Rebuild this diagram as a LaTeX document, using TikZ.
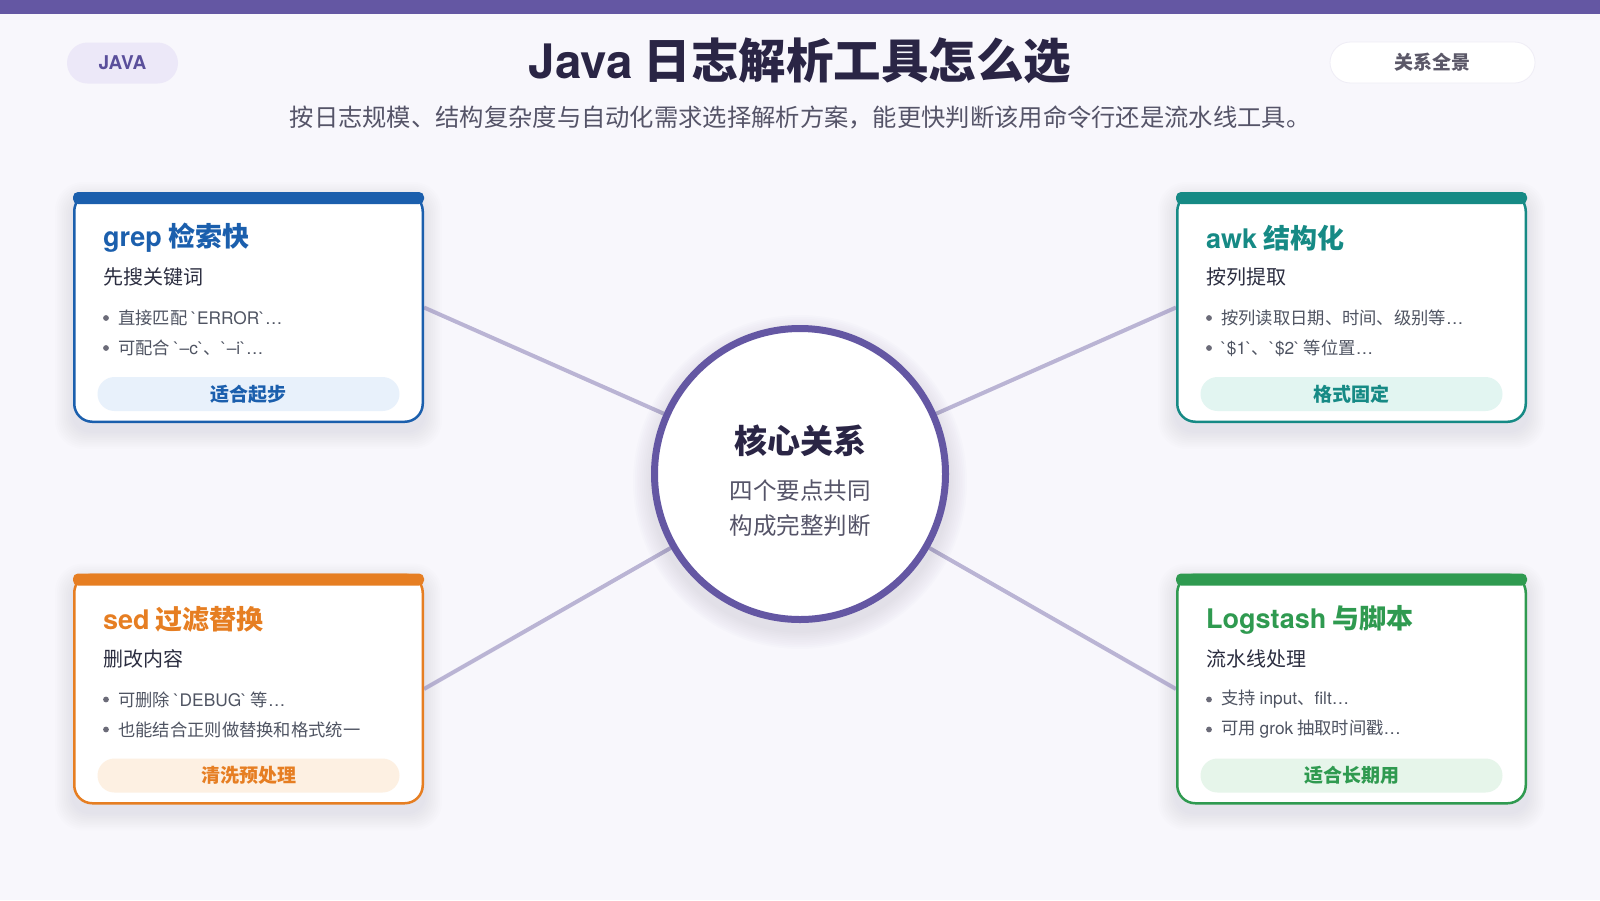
\documentclass[tikz,border=0pt]{standalone}
\usepackage{fontspec}
\setmainfont{Noto Sans CJK SC}[Ligatures=TeXOff]
\newfontfamily\lat{TeX Gyre Heros}[Ligatures=TeXOff]
\usetikzlibrary{calc}
\definecolor{bgc}{HTML}{F8F7FC}
\definecolor{topbar}{HTML}{6457A3}
\definecolor{titlec}{HTML}{2A2545}
\definecolor{subc}{HTML}{555468}
\definecolor{javafill}{HTML}{ECE8F8}
\definecolor{javatext}{HTML}{5A4F9B}
\definecolor{ovtext}{HTML}{5B5868}
\definecolor{ovedge}{HTML}{EFEDF6}
\definecolor{linec}{HTML}{BAB4D4}
\definecolor{shadowc}{HTML}{4A4470}
\definecolor{cblue}{HTML}{1B5FAD}
\definecolor{pblue}{HTML}{E8F1FB}
\definecolor{cteal}{HTML}{168A85}
\definecolor{pteal}{HTML}{E2F5F1}
\definecolor{corange}{HTML}{E67E22}
\definecolor{porange}{HTML}{FDF0E2}
\definecolor{cgreen}{HTML}{2F9A50}
\definecolor{pgreen}{HTML}{E6F5EA}
\definecolor{darktext}{HTML}{2B2D40}
\definecolor{bullettext}{HTML}{4F5462}
\definecolor{dotc}{HTML}{6B6B78}
\pgfdeclarelayer{bg}\pgfdeclarelayer{lines}\pgfsetlayers{bg,lines,main}
\newcommand\fs[1]{\fontsize{#1}{#1}\selectfont}
\tikzset{
  card/.style={rectangle, rounded corners=18pt, line width=2.5pt, fill=white, minimum width=348.5pt, minimum height=228.5pt, inner sep=0pt},
  cardtitle/.style={anchor=west, inner sep=0pt, font=\bfseries\fs{27}},
  cardsub/.style={anchor=west, inner sep=0pt, font=\fs{20}, text=darktext},
  bullet/.style={anchor=west, inner sep=0pt, font=\fs{17.3}, text=bullettext},
  pill/.style={rectangle, rounded corners=17pt, minimum width=302pt, minimum height=34pt, inner sep=0pt, font=\bfseries\fs{19}},
  conn/.style={draw=linec, line width=4pt},
  shadowstep/.style={fill=shadowc, opacity=0.008},
}
\newcommand\toolcard[9]{%
  \coordinate (#1-c) at (#2);
  \foreach \i in {1,...,10}{
    \fill[shadowstep, rounded corners=18+\i] ($(#1-c)+(-175.5-\i*1.8,-115.5-\i*1.8+8)$) rectangle ($(#1-c)+(175.5+\i*1.8,115.5+\i*1.8+8)$);
  }
  \node[card, draw=#3] (#1) at (#1-c) {};
  \fill[#3, rounded corners=5pt] (#1.north west) rectangle ([yshift=-12pt]#1.north east);
  \node[cardtitle, text=#3] (#1-t) at ($(#1.north west)+(30,46)$) {#5};
  \node[cardsub] (#1-s) at ($(#1.north west)+(30,85)$) {#6};
  \fill[dotc] ($(#1.north west)+(33,126)$) circle (2.9pt);
  \node[bullet] (#1-b1) at ($(#1.north west)+(45,126)$) {#7};
  \fill[dotc] ($(#1.north west)+(33,156)$) circle (2.9pt);
  \node[bullet] (#1-b2) at ($(#1.north west)+(45,156)$) {#8};
  \node[pill, fill=#4, text=#3] (#1-p) at ($(#1.north west)+(175.5,202)$) {#9};
}
\begin{document}
\begin{tikzpicture}[x=1pt,y=-1pt]
\useasboundingbox (0,0) rectangle (1600,900);
\begin{pgfonlayer}{bg}
  \fill[bgc] (0,0) rectangle (1600,900);
  \fill[topbar] (0,0) rectangle (1600,13.5);
\end{pgfonlayer}
% header
\node[rectangle, rounded corners=20.5pt, fill=javafill, minimum width=111pt, minimum height=41pt, inner sep=0pt, text=javatext, font=\lat\bfseries\fs{19}] (java) at (122.5,63) {JAVA};
\node[rectangle, rounded corners=20.5pt, fill=white, draw=ovedge, line width=0.8pt, minimum width=205pt, minimum height=41pt, inner sep=0pt, text=ovtext, font=\bfseries\fs{19}] (overview) at (1432.5,62.5) {关系全景};
\node[text=titlec, font=\bfseries\fs{47.5}, inner sep=0pt] (title) at (800,61) {{\lat Java} 日志解析工具怎么选};
\node[text=subc, font=\fs{24.3}, inner sep=0pt] (subtitle) at (800,117.5) {按日志规模、结构复杂度与自动化需求选择解析方案，能更快判断该用命令行还是流水线工具。};
% center
\foreach \i in {1,...,10}{
  \fill[shadowstep, opacity=0.011] (800,482) circle (149+\i*1.8);
}
\node[circle, draw=topbar, line width=7pt, fill=white, minimum size=291pt, inner sep=0pt] (core) at (800,474) {};
\node[text=titlec, font=\bfseries\fs{33}, inner sep=0pt] (core-t) at (800,441) {核心关系};
\node[text=subc, font=\fs{23.5}, inner sep=0pt] (core-s1) at (800,491) {四个要点共同};
\node[text=subc, font=\fs{23.5}, inner sep=0pt] (core-s2) at (800,525.5) {构成完整判断};
% cards
\toolcard{tl}{248.5,307.5}{cblue}{pblue}{{\lat grep} 检索快}{先搜关键词}{直接匹配 {\lat `ERROR`…}}{可配合 {\lat `–c`}、{\lat `–i`…}}{适合起步}
\toolcard{tr}{1351.5,307.5}{cteal}{pteal}{{\lat awk} 结构化}{按列提取}{按列读取日期、时间、级别等{\lat …}}{{\lat `\$1`}、{\lat `\$2`} 等位置{\lat …}}{格式固定}
\toolcard{bl}{248.5,689}{corange}{porange}{{\lat sed} 过滤替换}{删改内容}{可删除 {\lat `DEBUG`} 等{\lat …}}{也能结合正则做替换和格式统一}{清洗预处理}
\toolcard{br}{1351.5,689}{cgreen}{pgreen}{{\lat Logstash} 与脚本}{流水线处理}{支持 {\lat input}、{\lat filt…}}{可用 {\lat grok} 抽取时间戳{\lat …}}{适合长期用}
% connectors
\begin{pgfonlayer}{lines}
  \draw[conn] (tl.east) -- (core);
  \draw[conn] (tr.west) -- (core);
  \draw[conn] (bl.east) -- (core);
  \draw[conn] (br.west) -- (core);
\end{pgfonlayer}
\end{tikzpicture}
\end{document}
